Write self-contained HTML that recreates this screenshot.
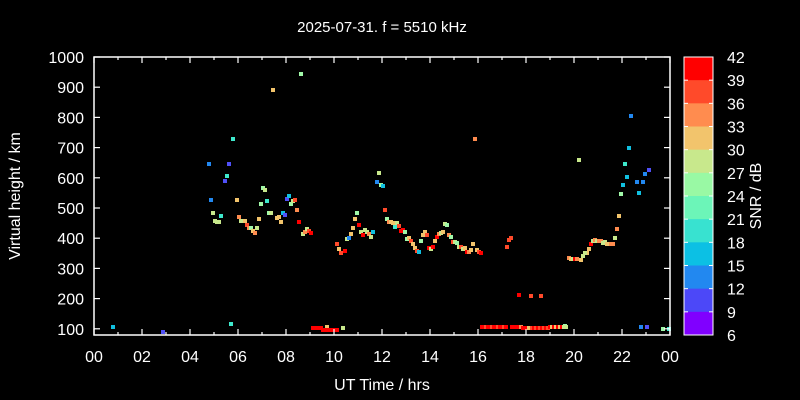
<!DOCTYPE html>
<html><head><meta charset="utf-8"><style>
html,body{margin:0;padding:0;background:#000;}
svg{display:block;font-family:"Liberation Sans",sans-serif;}
</style></head><body>
<svg width="800" height="400" viewBox="0 0 800 400" xmlns="http://www.w3.org/2000/svg">
<rect width="800" height="400" fill="#000"/>
<text x="382" y="32" fill="#fff" font-size="15" text-anchor="middle">2025-07-31. f = 5510 kHz</text>
<g id="pts"></g>
<g id="ax" stroke="#fff" stroke-width="1.5" fill="none">
<rect x="94" y="57" width="576" height="278"/>
</g>
<g id="tk" stroke="#fff" stroke-width="1.2"></g>
<g id="lb" fill="#fff" font-size="16"></g>
<text x="382" y="390" fill="#fff" font-size="16" text-anchor="middle">UT Time / hrs</text>
<text transform="translate(20,196) rotate(-90)" fill="#fff" font-size="16" text-anchor="middle">Virtual height / km</text>
<g id="cb"></g>
<rect x="684" y="57" width="29" height="278" fill="none" stroke="#fff" stroke-width="1"/>
<text transform="translate(761,196) rotate(-90)" fill="#fff" font-size="16" text-anchor="middle">SNR / dB</text>
</svg>
<script>
const NS="http://www.w3.org/2000/svg";
function el(p,t,a,txt){const e=document.createElementNS(NS,t);for(const k in a)e.setAttribute(k,a[k]);if(txt!==undefined)e.textContent=txt;p.appendChild(e);return e;}
const tk=document.getElementById('tk'),lb=document.getElementById('lb');
for(let v=100;v<=1000;v+=100){const y=57+(1000-v)*0.302;
el(tk,'line',{x1:94,x2:100,y1:y,y2:y});el(tk,'line',{x1:664,x2:670,y1:y,y2:y});
el(lb,'text',{x:84,y:y+6,'text-anchor':'end'},String(v));}
for(let h=0;h<=24;h++){const x=94+24*h;const L=h%2==0?6:3;
el(tk,'line',{x1:x,x2:x,y1:335,y2:335-L});el(tk,'line',{x1:x,x2:x,y1:57,y2:57+L});
if(h%2==0)el(lb,'text',{x:x,y:362,'text-anchor':'middle'},String(h%24).padStart(2,'0'));}
const cbc=['#ff0000','#ff4a2a','#ff8c4f','#f2c46c','#c8e88c','#99f9a4','#6cf5b8','#38e2d0','#0cc0e4','#2288f0','#4c48f8','#8000ff'];
const cb=document.getElementById('cb');const bh=278/12;
cbc.forEach((c,i)=>{el(cb,'rect',{x:684,y:57+i*bh,width:29,height:bh+0.5,fill:c});});
for(let i=0;i<=12;i++){const y=57+i*bh;el(cb,'text',{x:727,y:y+6,fill:'#fff','font-size':16},String(42-3*i));
if(i>0&&i<12){el(cb,'line',{x1:684,x2:688,y1:y,y2:y,stroke:'#fff'});el(cb,'line',{x1:709,x2:713,y1:y,y2:y,stroke:'#fff'});}}
const C={r:'#ff0000',o:'#ff4a2a',a:'#ff8c4f',y:'#f2c46c',l:'#c8e88c',g:'#a0f8a8',t:'#3ee8cc',c:'#10c0e0',b:'#2288f0',i:'#5050f8'};
const P=[[113,327,'c'],[163,332,'i'],[233,139,'t'],[209,164,'b'],[229,164,'i'],[227,176,'t'],[225,181,'i'],[211,200,'b'],[237,200,'y'],[213,213,'l'],[221,216,'t'],[215,221,'l'],[217,222,'l'],[219,222,'l'],[239,217,'a'],[241,221,'l'],[245,221,'y'],[247,225,'o'],[249,228,'a'],[251,228,'g'],[253,231,'y'],[255,233,'a'],[257,228,'l'],[259,219,'y'],[263,188,'g'],[265,190,'l'],[261,204,'g'],[267,201,'t'],[269,213,'g'],[271,213,'l'],[277,218,'y'],[279,217,'y'],[281,222,'y'],[283,213,'c'],[285,215,'i'],[287,199,'i'],[289,196,'c'],[291,204,'g'],[293,201,'l'],[295,200,'o'],[297,210,'a'],[299,222,'r'],[303,234,'l'],[305,232,'a'],[307,229,'l'],[309,231,'o'],[311,233,'r'],[273,90,'y'],[301,74,'g'],[337,244,'o'],[339,249,'y'],[341,253,'o'],[345,251,'r'],[347,239,'l'],[349,238,'b'],[351,234,'y'],[353,228,'y'],[355,219,'y'],[357,213,'g'],[359,225,'r'],[361,232,'l'],[363,235,'r'],[365,230,'l'],[367,232,'l'],[369,234,'a'],[371,237,'l'],[373,232,'c'],[379,173,'l'],[377,182,'b'],[381,185,'g'],[383,186,'c'],[385,210,'o'],[387,219,'g'],[389,222,'a'],[391,222,'y'],[393,223,'y'],[397,223,'l'],[395,227,'t'],[399,226,'o'],[401,231,'r'],[403,230,'r'],[405,232,'g'],[407,239,'g'],[409,238,'y'],[411,241,'o'],[413,244,'y'],[415,248,'y'],[417,251,'o'],[419,252,'c'],[421,241,'g'],[423,235,'y'],[425,232,'y'],[427,235,'o'],[429,248,'r'],[431,249,'l'],[433,247,'r'],[435,241,'y'],[437,237,'r'],[439,234,'a'],[441,233,'l'],[443,232,'y'],[445,224,'l'],[447,225,'g'],[449,235,'a'],[451,237,'g'],[453,242,'o'],[455,242,'l'],[457,243,'g'],[459,247,'l'],[461,247,'o'],[463,249,'l'],[465,248,'y'],[467,252,'r'],[469,252,'a'],[471,250,'y'],[473,244,'y'],[477,250,'y'],[479,252,'o'],[481,253,'r'],[475,139,'a'],[507,247,'o'],[509,240,'o'],[511,238,'o'],[519,295,'r'],[531,296,'o'],[541,296,'o'],[569,258,'a'],[571,259,'y'],[573,259,'l'],[575,259,'r'],[577,259,'a'],[579,160,'l'],[631,116,'b'],[629,148,'c'],[625,164,'t'],[649,170,'i'],[645,174,'b'],[627,177,'c'],[637,182,'b'],[643,182,'b'],[623,185,'c'],[639,193,'c'],[621,194,'g'],[619,216,'y'],[617,229,'a'],[615,238,'l'],[591,244,'r'],[593,241,'l'],[595,240,'a'],[597,241,'l'],[599,241,'a'],[601,241,'a'],[603,243,'l'],[605,242,'l'],[607,244,'y'],[609,244,'y'],[611,244,'a'],[613,244,'a'],[589,249,'y'],[587,253,'y'],[585,253,'l'],[583,256,'l'],[581,260,'y'],[231,324,'t'],[327,327,'y'],[343,328,'l'],[641,327,'b'],[647,327,'i'],[663,329,'g'],[669,329,'t']];
for(let x=313;x<=337;x+=2)P.push([x,x<322?328:330,'r']);
for(let x=482;x<=507;x+=2)P.push([x,327,x%6==0?'o':'r']);
for(let x=512;x<=519;x+=2)P.push([x,327,'r']);P.push([521,327,'a']);
for(let x=523;x<=528;x+=2)P.push([x,328,'r']);P.push([529,328,'y']);
for(let x=532;x<=549;x+=2)P.push([x,328,x%4==0?'o':'r']);P.push([552,327,'y']);
for(let x=553;x<=560;x+=2)P.push([x,327,'r']);P.push([563,327,'l']);P.push([565,326,'g']);
for(let x=550;x<=566;x+=2)P.push([x,327,x>562?'l':(x%4==0?'y':'r')]);
const g=document.getElementById('pts');
P.forEach(p=>el(g,'rect',{x:p[0]-2,y:p[1]-2,width:4,height:4,fill:C[p[2]]}));
</script>
</body></html>
